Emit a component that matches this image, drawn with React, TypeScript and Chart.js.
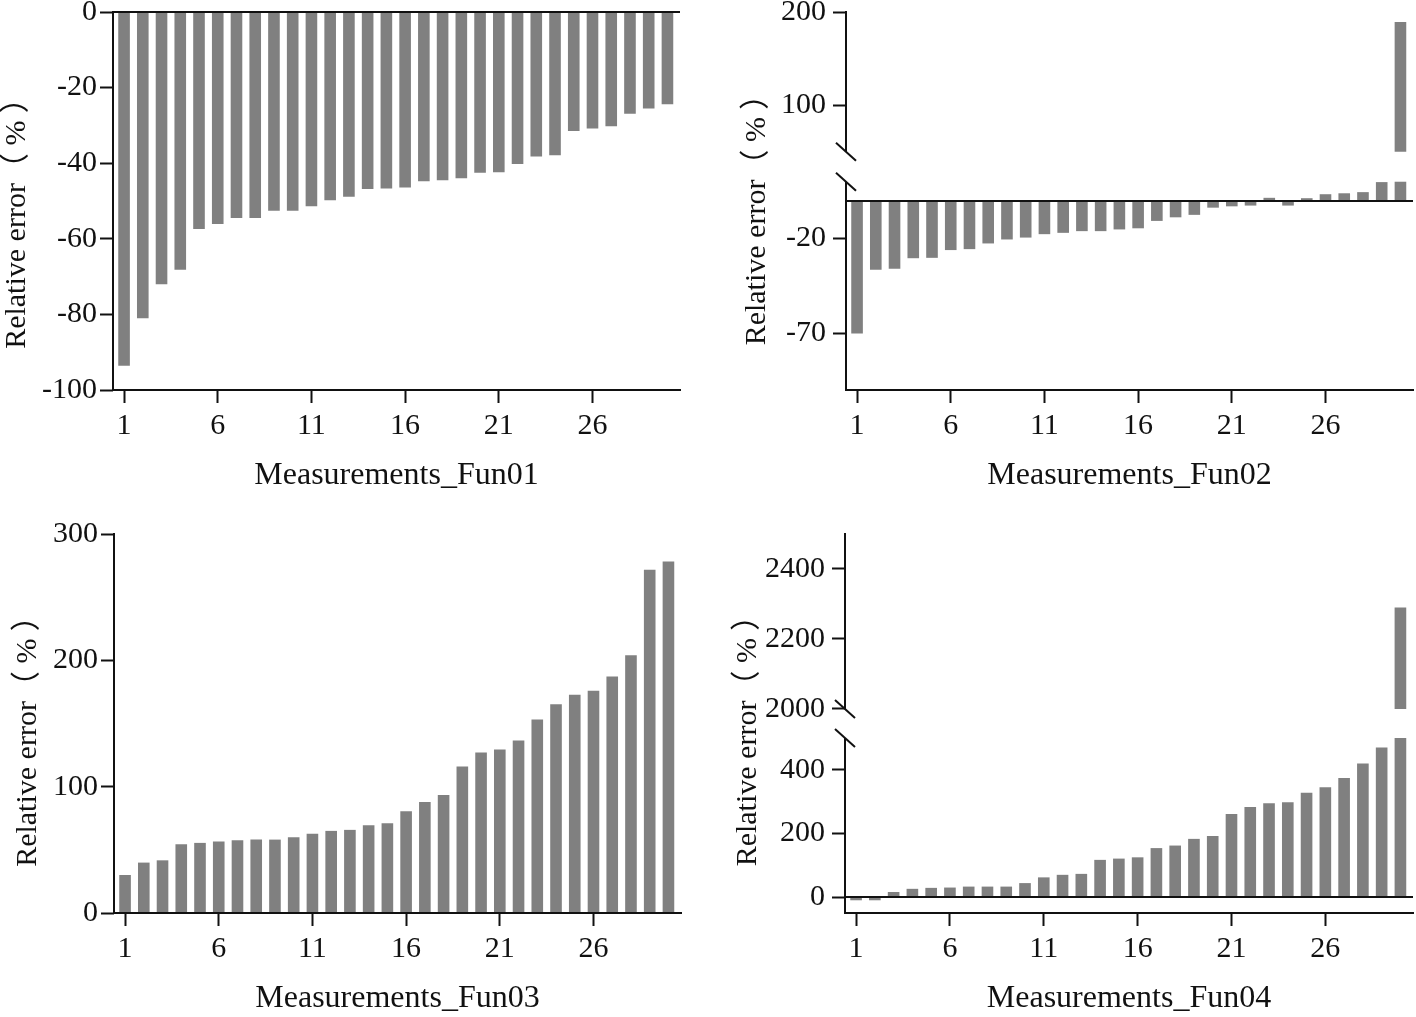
import React, { useEffect, useRef } from 'react';
import { Chart, registerables, LinearScale } from 'chart.js';

Chart.register(...registerables);

// ---------------- data ----------------
const measurements = [
  1, 2, 3, 4, 5, 6, 7, 8, 9, 10, 11, 12, 13, 14, 15,
  16, 17, 18, 19, 20, 21, 22, 23, 24, 25, 26, 27, 28, 29, 30,
];
const xTickValues = [1, 6, 11, 16, 21, 26];

const fun01Errors = [
  -93.6, -81.0, -72.0, -68.2, -57.4, -56.1, -54.5, -54.5, -52.6, -52.6,
  -51.4, -49.8, -48.9, -46.8, -46.7, -46.4, -44.8, -44.5, -44.0, -42.5,
  -42.4, -40.2, -38.2, -37.9, -31.5, -30.8, -30.2, -26.9, -25.5, -24.4,
];
const fun02Errors = [
  -70.2, -36.5, -36.0, -30.4, -30.2, -26.1, -25.6, -22.6, -20.5, -19.5,
  -17.7, -17.0, -16.1, -16.1, -15.2, -14.6, -10.7, -8.8, -7.5, -3.7,
  -3.0, -2.6, 1.5, -2.6, 1.3, 3.4, 3.9, 4.5, 9.8, 189.3,
];
const fun03Errors = [
  30.1, 39.9, 41.7, 54.4, 55.5, 56.5, 57.6, 58.1, 58.1, 59.9,
  62.8, 65.0, 65.8, 69.4, 71.0, 80.5, 87.9, 93.5, 115.9, 127.0,
  129.4, 136.5, 153.2, 165.3, 172.7, 175.9, 187.2, 204.1, 271.7, 278.3,
];
const fun04Errors = [
  -10, -10, 16, 26, 29, 30, 33, 33, 33, 44,
  62, 70, 73, 117, 121, 125, 154, 162, 183, 192,
  261, 283, 295, 298, 328, 345, 374, 420, 470, 2290,
];

const fun01YTicks = [-100, -80, -60, -40, -20, 0];
const fun02YTicks = [-70, -20, 100, 200];
const fun03YTicks = [0, 100, 200, 300];
const fun04YTicks = [0, 200, 400, 2000, 2200, 2400];

const xTitles = ['Measurements_Fun01', 'Measurements_Fun02', 'Measurements_Fun03', 'Measurements_Fun04'];
const yTitleText = 'Relative error（ % ）';

// ---------------- styling ----------------
const INK = '#111111';
const BAR = '#808080';
const SERIF = "'Liberation Serif', 'Times New Roman', 'Noto Sans CJK SC', serif";

type Seg = { min: number; max: number; from: number; to: number };

function valueToDecimal(segs: Seg[], v: number): number {
  for (let i = 0; i < segs.length; i++) {
    const s = segs[i];
    const first = i === 0;
    const last = i === segs.length - 1;
    if ((v >= s.min || first) && (v <= s.max || last)) {
      return s.from + ((v - s.min) / (s.max - s.min)) * (s.to - s.from);
    }
    if (!last && v > s.max && v < segs[i + 1].min) {
      const n = segs[i + 1];
      return s.to + ((v - s.max) / (n.min - s.max)) * (n.from - s.to);
    }
  }
  return 0;
}

function decimalToValue(segs: Seg[], d: number): number {
  for (let i = 0; i < segs.length; i++) {
    const s = segs[i];
    const first = i === 0;
    const last = i === segs.length - 1;
    if ((d >= s.from || first) && (d <= s.to || last)) {
      return s.min + ((d - s.from) / (s.to - s.from)) * (s.max - s.min);
    }
    if (!last && d > s.to && d < segs[i + 1].from) {
      const n = segs[i + 1];
      return s.max + ((d - s.to) / (n.from - s.to)) * (n.min - s.max);
    }
  }
  return 0;
}

function makeBrokenScale(id: string, segs: Seg[]) {
  class BrokenScale extends LinearScale {
    static id = id;
    static defaults = LinearScale.defaults;
    getPixelForValue(value: any): number {
      if (value === null || value === undefined || Number.isNaN(+value)) return NaN;
      return this.getPixelForDecimal(valueToDecimal(segs, +value));
    }
    getValueForPixel(pixel: number): number {
      return decimalToValue(segs, this.getDecimalForPixel(pixel));
    }
  }
  return BrokenScale;
}

type PanelSpec = {
  key: string;
  left: number;
  top: number;
  w: number;
  h: number;
  axisW: number;
  padR: number;
  yTickPad: number;
  segs: Seg[];
  yTicks: number[];
  values: number[];
  xTitle: string;
  yTitleX: number;
  yTitleY: number;
  scaleId: string;
};

const panels: PanelSpec[] = [
  {
    key: 'fun01', left: 0, top: -28, w: 708, h: 536, axisW: 113, padR: 28, yTickPad: 3,
    segs: [{ min: -100, max: 0, from: 0, to: 1 }],
    yTicks: fun01YTicks, values: fun01Errors, xTitle: xTitles[0],
    yTitleX: 17.5, yTitleY: 244, scaleId: 'broken01',
  },
  {
    key: 'fun02', left: 708, top: -28, w: 708, h: 536, axisW: 138, padR: 3, yTickPad: 7,
    segs: [
      { min: -100, max: 10, from: 0, to: 0.551 },
      { min: 50, max: 200, from: 0.6304, to: 1 },
    ],
    yTicks: fun02YTicks, values: fun02Errors, xTitle: xTitles[1],
    yTitleX: 49.5, yTitleY: 240.5, scaleId: 'broken02',
  },
  {
    key: 'fun03', left: 0, top: 494, w: 708, h: 537, axisW: 114, padR: 27, yTickPad: 3,
    segs: [{ min: 0, max: 300, from: 0, to: 1 }],
    yTicks: fun03YTicks, values: fun03Errors, xTitle: xTitles[2],
    yTitleX: 28.5, yTitleY: 240, scaleId: 'broken03',
  },
  {
    key: 'fun04', left: 708, top: 494, w: 708, h: 537, axisW: 137, padR: 3, yTickPad: 7,
    segs: [
      { min: -50, max: 500, from: 0, to: 0.4617 },
      { min: 2000, max: 2500, from: 0.5383, to: 1 },
    ],
    yTicks: fun04YTicks, values: fun04Errors, xTitle: xTitles[3],
    yTitleX: 40, yTitleY: 239.5, scaleId: 'broken04',
  },
];

panels.forEach((p) => Chart.register(makeBrokenScale(p.scaleId, p.segs) as any));

function makeDecor(p: PanelSpec) {
  return {
    id: 'decor_' + p.key,
    afterDatasetsDraw(chart: any) {
      const { ctx, chartArea } = chart;
      const ys = chart.scales.y;
      const x0 = Math.round(chartArea.left);
      ctx.save();
      ctx.strokeStyle = INK;
      ctx.lineWidth = 2;
      ctx.lineCap = 'butt';
      // y axis segments
      p.segs.forEach((s) => {
        const yTop = Math.round(ys.getPixelForValue(s.max)) - (s.to === 1 ? 1 : 0);
        const yBot = Math.round(ys.getPixelForValue(s.min)) + (s.from === 0 ? 1 : 0);
        ctx.beginPath();
        ctx.moveTo(x0, yTop);
        ctx.lineTo(x0, yBot);
        ctx.stroke();
      });
      // break marks
      for (let i = 0; i < p.segs.length - 1; i++) {
        const ends = [ys.getPixelForValue(p.segs[i].max), ys.getPixelForValue(p.segs[i + 1].min)];
        ends.forEach((py: number) => {
          ctx.beginPath();
          ctx.moveTo(x0 - 10, py - 9);
          ctx.lineTo(x0 + 10, py + 9);
          ctx.stroke();
        });
      }
      // zero line
      const zy = Math.round(ys.getPixelForValue(0));
      ctx.beginPath();
      ctx.moveTo(x0 - 1, zy);
      ctx.lineTo(chartArea.right, zy);
      ctx.stroke();
      // y axis title
      ctx.fillStyle = INK;
      ctx.font = `30px ${SERIF}`;
      ctx.textAlign = 'center';
      ctx.textBaseline = 'middle';
      ctx.translate(p.yTitleX, p.yTitleY);
      ctx.rotate(-Math.PI / 2);
      ctx.fillText(yTitleText, 0, 0);
      ctx.restore();
    },
  };
}

function buildConfig(p: PanelSpec): any {
  const lower = p.segs[0];
  const upper = p.segs.length > 1 ? p.segs[p.segs.length - 1] : null;
  const barStyle = {
    backgroundColor: BAR,
    borderWidth: 0,
    grouped: false,
    categoryPercentage: 1,
    barPercentage: 0.62,
  };
  const datasets: any[] = [
    {
      data: measurements.map((m, i) => ({ x: m, y: Math.min(p.values[i], lower.max) })),
      ...barStyle,
    },
  ];
  if (upper) {
    datasets.push({
      data: measurements
        .map((m, i) => ({ x: m, v: p.values[i] }))
        .filter((d) => d.v > upper.min)
        .map((d) => ({ x: d.x, y: [upper.min, d.v] })),
      ...barStyle,
    });
  }
  return {
    type: 'bar',
    data: { datasets },
    options: {
      responsive: false,
      maintainAspectRatio: false,
      animation: false,
      devicePixelRatio: 1,
      layout: { padding: { left: 0, top: 40, right: p.padR, bottom: 0 } },
      plugins: { legend: { display: false }, tooltip: { enabled: false }, title: { display: false } },
      scales: {
        x: {
          type: 'linear',
          position: 'bottom',
          offset: false,
          min: 0.41,
          max: 30.67,
          bounds: 'data',
          afterBuildTicks: (s: any) => {
            s.ticks = xTickValues.map((v) => ({ value: v }));
          },
          afterFit: (s: any) => {
            s.height = 118;
          },
          grid: {
            offset: false,
            drawOnChartArea: false,
            drawTicks: true,
            tickLength: 13,
            tickWidth: 2,
            tickColor: INK,
          },
          border: { display: true, color: INK, width: 2 },
          ticks: {
            autoSkip: false,
            maxRotation: 0,
            minRotation: 0,
            padding: 5,
            color: INK,
            font: { family: SERIF, size: 30 },
            callback: (v: any) => String(v),
          },
          title: {
            display: true,
            text: p.xTitle,
            color: INK,
            font: { family: SERIF, size: 32 },
            padding: { top: 0, bottom: 13 },
          },
        },
        y: {
          type: p.scaleId,
          position: 'left',
          offset: false,
          min: lower.min,
          max: (upper || lower).max,
          bounds: 'data',
          afterBuildTicks: (s: any) => {
            s.ticks = p.yTicks.map((v) => ({ value: v }));
          },
          afterFit: (s: any) => {
            s.width = p.axisW;
          },
          grid: {
            offset: false,
            drawOnChartArea: false,
            drawTicks: true,
            tickLength: 13,
            tickWidth: 2,
            tickColor: INK,
          },
          border: { display: false },
          ticks: {
            autoSkip: false,
            padding: p.yTickPad,
            color: INK,
            font: { family: SERIF, size: 30 },
            callback: (v: any) => String(v),
          },
          title: { display: false },
        },
      },
    },
    plugins: [makeDecor(p)],
  };
}

function Panel({ spec }: { spec: PanelSpec }) {
  const ref = useRef<HTMLCanvasElement | null>(null);
  useEffect(() => {
    if (!ref.current) return;
    const chart = new Chart(ref.current, buildConfig(spec));
    return () => chart.destroy();
  }, [spec]);
  return (
    <canvas
      ref={ref}
      width={spec.w}
      height={spec.h}
      style={{ position: 'absolute', left: spec.left, top: spec.top, width: spec.w, height: spec.h }}
    />
  );
}

export default function App() {
  return (
    <div
      style={{
        position: 'fixed',
        left: 0,
        top: 0,
        width: 1416,
        height: 1017,
        overflow: 'hidden',
        background: '#ffffff',
      }}
    >
      {panels.map((p) => (
        <Panel key={p.key} spec={p} />
      ))}
    </div>
  );
}
